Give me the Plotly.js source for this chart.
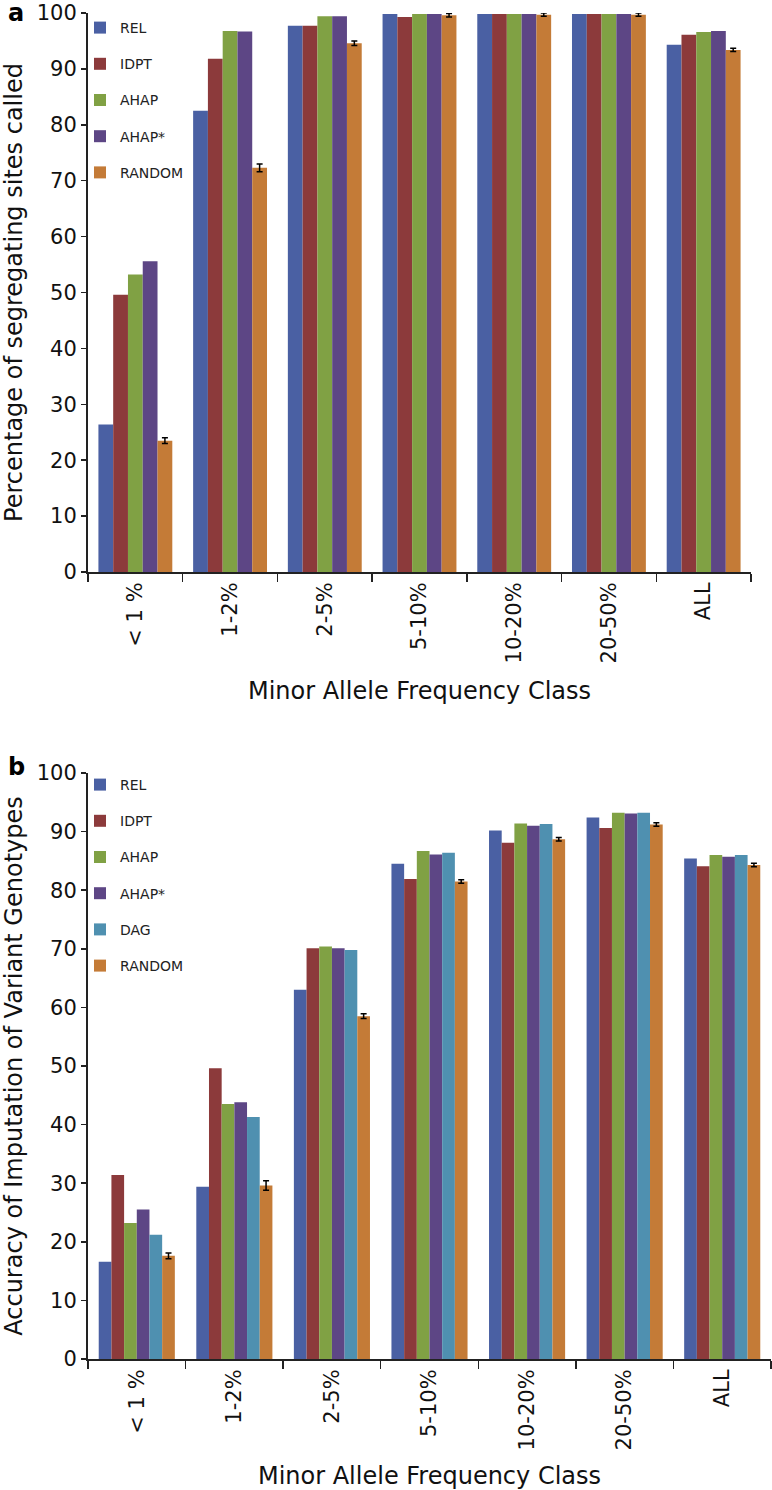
<!DOCTYPE html>
<html>
<head>
<meta charset="utf-8">
<script src="https://cdn.plot.ly/plotly-3.0.1.min.js"></script>
<style>
  html, body { margin: 0; padding: 0; background: #ffffff; }
  #chart { width: 772px; height: 1490px; }
</style>
</head>
<body>
<div id="chart"></div>
<script>
// ---- Data ----
const categories = ['< 1 %', '1-2%', '2-5%', '5-10%', '10-20%', '20-50%', 'ALL'];

// Panel a: Percentage of segregating sites called
const relA = [26.4, 82.5, 97.7, 99.8, 99.8, 99.8, 94.3];
const idptA = [49.6, 91.8, 97.7, 99.3, 99.8, 99.8, 96.1];
const ahapA = [53.2, 96.8, 99.4, 99.8, 99.8, 99.8, 96.6];
const ahapStarA = [55.6, 96.7, 99.4, 99.8, 99.8, 99.8, 96.8];
const randomA = [23.5, 72.3, 94.6, 99.6, 99.7, 99.7, 93.4];
const randomErrA = [0.5, 0.7, 0.4, 0.3, 0.3, 0.3, 0.3];

// Panel b: Accuracy of imputation of variant genotypes
const relB = [16.6, 29.4, 63.0, 84.5, 90.2, 92.4, 85.4];
const idptB = [31.4, 49.6, 70.1, 81.9, 88.1, 90.6, 84.1];
const ahapB = [23.2, 43.5, 70.4, 86.7, 91.4, 93.2, 86.0];
const ahapStarB = [25.5, 43.8, 70.1, 86.1, 91.0, 93.1, 85.7];
const dagB = [21.2, 41.3, 69.8, 86.4, 91.3, 93.2, 86.0];
const randomB = [17.6, 29.6, 58.5, 81.5, 88.7, 91.2, 84.3];
const randomErrB = [0.5, 0.8, 0.4, 0.3, 0.3, 0.3, 0.3];

const seriesNames = ['REL', 'IDPT', 'AHAP', 'AHAP*', 'DAG', 'RANDOM'];
const colors = {
  'REL': '#4a60a3',
  'IDPT': '#8c3a3b',
  'AHAP': '#80a144',
  'AHAP*': '#5d4685',
  'DAG': '#4f90b0',
  'RANDOM': '#c47b37'
};

// ---- Traces ----
function barTrace(name, values, xa, ya, legend, err) {
  const t = {
    type: 'bar',
    name: name,
    x: categories,
    y: values,
    xaxis: xa,
    yaxis: ya,
    legend: legend,
    legendgroup: legend + name,
    marker: { color: colors[name], line: { width: 0 } },
    hoverinfo: 'x+y+name'
  };
  if (err) {
    t.error_y = { type: 'data', array: err, visible: true, color: '#000000', thickness: 1.5, width: 3 };
  }
  return t;
}

const data = [
  barTrace('REL', relA, 'x', 'y', 'legend'),
  barTrace('IDPT', idptA, 'x', 'y', 'legend'),
  barTrace('AHAP', ahapA, 'x', 'y', 'legend'),
  barTrace('AHAP*', ahapStarA, 'x', 'y', 'legend'),
  barTrace('RANDOM', randomA, 'x', 'y', 'legend', randomErrA),
  barTrace('REL', relB, 'x2', 'y2', 'legend2'),
  barTrace('IDPT', idptB, 'x2', 'y2', 'legend2'),
  barTrace('AHAP', ahapB, 'x2', 'y2', 'legend2'),
  barTrace('AHAP*', ahapStarB, 'x2', 'y2', 'legend2'),
  barTrace('DAG', dagB, 'x2', 'y2', 'legend2'),
  barTrace('RANDOM', randomB, 'x2', 'y2', 'legend2', randomErrB)
];

// ---- Layout ----
const W = 772, H = 1490;
const FONT = 'DejaVu Sans, Liberation Sans, Arial, sans-serif';
const axisCommon = {
  showline: true, linecolor: '#222222', linewidth: 2,
  showgrid: false, zeroline: false,
  ticks: 'outside', tickcolor: '#222222', tickwidth: 1.5,
  tickfont: { family: FONT, size: 21, color: '#111111' }
};

function xAxis(domain, anchor, standoff) {
  return Object.assign({}, axisCommon, {
    domain: domain, anchor: anchor, type: 'category',
    tickson: 'boundaries', ticklen: 8, tickangle: -90,
    title: { text: 'Minor Allele Frequency Class', font: { family: FONT, size: 24, color: '#111111' }, standoff: standoff }
  });
}
function yAxis(domain, anchor, title) {
  return Object.assign({}, axisCommon, {
    domain: domain, anchor: anchor, range: [0, 100], dtick: 10, ticklen: 5,
    title: { text: title, font: { family: FONT, size: 24, color: '#111111' }, standoff: 12 }
  });
}

const legendCommon = {
  orientation: 'v', xanchor: 'left', yanchor: 'top',
  bgcolor: 'rgba(0,0,0,0)', borderwidth: 0,
  font: { family: FONT, size: 14, color: '#222222' },
  tracegroupgap: 15, itemclick: false, itemdoubleclick: false
};

const layout = {
  width: W, height: H,
  margin: { l: 0, r: 0, t: 0, b: 0 },
  paper_bgcolor: '#ffffff', plot_bgcolor: '#ffffff',
  barmode: 'group', bargap: 0.22, bargroupgap: 0,
  showlegend: true,
  xaxis: xAxis([88 / W, 751 / W], 'y', 20),
  yaxis: yAxis([1 - 572 / H, 1 - 13 / H], 'x', 'Percentage of segregating sites called'),
  xaxis2: xAxis([88 / W, 771 / W], 'y2', 24),
  yaxis2: yAxis([1 - 1359 / H, 1 - 773 / H], 'x2', 'Accuracy of Imputation of Variant Genotypes'),
  legend: Object.assign({}, legendCommon, { x: 80 / W, y: 1 - 12 / H }),
  legend2: Object.assign({}, legendCommon, { x: 80 / W, y: 1 - 769 / H }),
  annotations: [
    { text: '<b>a</b>', x: 16 / W, y: 1 - 13 / H, xref: 'paper', yref: 'paper',
      xanchor: 'center', yanchor: 'middle', showarrow: false,
      font: { family: FONT, size: 24, color: '#000000' } },
    { text: '<b>b</b>', x: 16 / W, y: 1 - 767 / H, xref: 'paper', yref: 'paper',
      xanchor: 'center', yanchor: 'middle', showarrow: false,
      font: { family: FONT, size: 24, color: '#000000' } }
  ]
};

Plotly.newPlot('chart', data, layout, { displayModeBar: false, staticPlot: true });
</script>
</body>
</html>
